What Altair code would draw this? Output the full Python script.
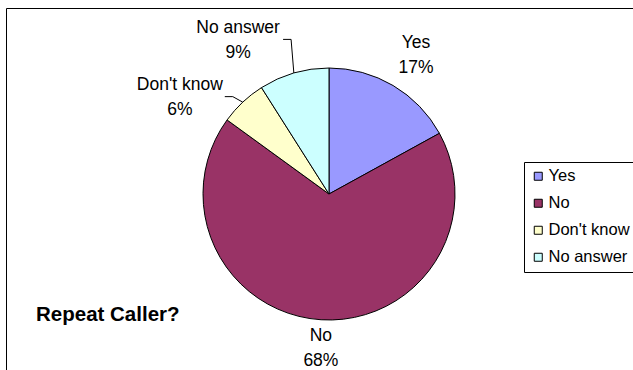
import math
import altair as alt
import pandas as pd

# ---- data ----
categories = ["Yes", "No", "Don't know", "No answer"]
percents = [17, 68, 6, 9]
colors = ["#9999FF", "#993366", "#FFFFCC", "#CCFFFF"]
title_text = "Repeat Caller?"

# ---- style / layout constants ----
FONT = "Liberation Sans"
W, H = 646, 372          # plot area; pie sits at its centre
R_PIE = 126
R_LABEL = 161
LINE_H = 25
# Excel nudged some labels off their mid-angle position (pixels, y up)
label_nudge = {"Yes": (5, 1), "No": (2, 7), "Don't know": (-39, -20), "No answer": (-46, 0)}
leader_for = ["Don't know", "No answer"]
LEADER_A, LEADER_B = 45, 53

df = pd.DataFrame({"category": categories, "percent": percents, "order": range(len(categories))})
df["end"] = df["percent"].cumsum()
df["mid"] = df["end"] - df["percent"] / 2
total = df["percent"].sum()
df["ang"] = df["mid"] / total * 2 * math.pi
df["label"] = df["category"] + "\n" + df["percent"].astype(str) + "%"
df["lx"] = [R_LABEL * math.sin(a) + label_nudge[c][0] for a, c in zip(df["ang"], df["category"])]
df["ly"] = [R_LABEL * math.cos(a) + label_nudge[c][1] for a, c in zip(df["ang"], df["category"])]
# first text line sits half a line above the block centre
df["ty"] = df["ly"] + LINE_H / 2 - 1

rows = []
for _, r in df[df["category"].isin(leader_for)].iterrows():
    rows.append({"category": r["category"], "seq": 0, "x": r["lx"] + LEADER_A, "y": r["ly"]})
    rows.append({"category": r["category"], "seq": 1, "x": r["lx"] + LEADER_B, "y": r["ly"]})
    rows.append({"category": r["category"], "seq": 2,
                 "x": R_PIE * math.sin(r["ang"]), "y": R_PIE * math.cos(r["ang"])})
leaders = pd.DataFrame(rows)

xs = alt.Scale(domain=[-W / 2, W / 2], nice=False, zero=False)
ys = alt.Scale(domain=[-H / 2, H / 2], nice=False, zero=False)

pie = alt.Chart(df).mark_arc(radius=R_PIE, stroke="black", strokeWidth=1).encode(
    theta=alt.Theta("percent:Q", stack=True),
    color=alt.Color(
        "category:N",
        scale=alt.Scale(domain=categories, range=colors),
        legend=alt.Legend(
            orient="none", legendX=518, legendY=154, title=None,
            strokeColor="black", fillColor="white", padding=6,
            labelFont=FONT, labelFontSize=16.5, labelColor="black", labelOffset=2,
            symbolType="square", symbolSize=64, symbolStrokeColor="black",
            symbolStrokeWidth=1, rowPadding=10,
        ),
    ),
    order=alt.Order("order:Q"),
)

labels = alt.Chart(df).mark_text(
    font=FONT, fontSize=17.5, lineBreak="\n", lineHeight=LINE_H,
    align="center", baseline="middle", color="black",
).encode(
    x=alt.X("lx:Q", scale=xs, axis=None),
    y=alt.Y("ty:Q", scale=ys, axis=None),
    text="label:N",
)

lines = alt.Chart(leaders).mark_line(color="black", strokeWidth=1).encode(
    x=alt.X("x:Q", scale=xs, axis=None),
    y=alt.Y("y:Q", scale=ys, axis=None),
    detail="category:N",
    order="seq:Q",
)

chart = alt.layer(pie, lines, labels).properties(
    width=W, height=H,
    autosize=alt.AutoSizeParams(type="none"),
    padding={"left": 6, "top": 8, "right": -19, "bottom": -10},
    title=alt.TitleParams(
        title_text, orient="top", anchor="start", frame="group", offset=0,
        font=FONT, fontSize=20.5, fontWeight="bold", color="black",
        baseline="alphabetic", dx=30, dy=333,
    ),
).configure_view(stroke="black", strokeWidth=1)

chart.save("out.html", embed_options={"renderer": "svg", "actions": False})
